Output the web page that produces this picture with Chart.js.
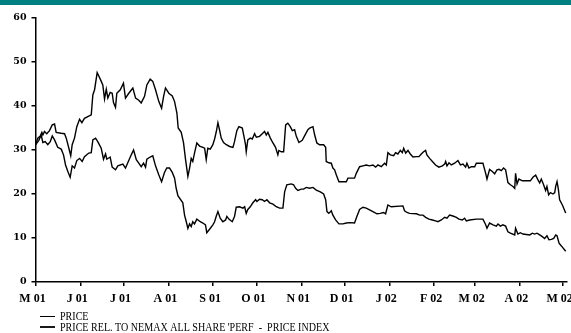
<!DOCTYPE html>
<html>
<head>
<meta charset="utf-8">
<script src="https://cdn.jsdelivr.net/npm/chart.js@4"></script>
<style>
  html, body { margin: 0; padding: 0; background: #fff; }
  canvas { display: block; }
</style>
</head>
<body>
<canvas id="priceChart" width="571" height="333"></canvas>
<script>
// month starts, days counted from 1 May 2001
const tickDays = [0, 31, 61, 92, 123, 153, 184, 214, 245, 276, 304, 335, 365];
const tickLabels = ['M 01', 'J 01', 'J 01', 'A 01', 'S 01', 'O 01', 'N 01', 'D 01', 'J 02', 'F 02', 'M 02', 'A 02', 'M 02'];

const priceLabel = 'PRICE';
const relLabel = "PRICE REL. TO NEMAX ALL SHARE 'PERF  -  PRICE INDEX";

const priceDays = [
    0, 2.3, 3.9, 5.1, 6.7, 8.5, 10.2, 11.6, 13.2, 15.4,
    17.8, 19.4, 20.8, 22.4, 24.0, 25.4, 27.0, 28.6, 30.5, 32.3,
    33.9, 36.9, 38.6, 39.7, 41.6, 43.1, 45.5, 47.1, 48.5, 49.4,
    51.7, 53.1, 55.4, 57.0, 60.5, 62.3, 63.9, 66.3, 67.9, 69.8,
    71.5, 73.2, 74.8, 76.2, 77.1, 79.4, 81.2, 83.1, 85.4, 87.3,
    89.3, 90.9, 92.8, 94.7, 96.3, 97.4, 98.6, 102.0, 103.2, 104.4,
    105.5, 106.7, 107.8, 108.9, 110.1, 111.7, 114.1, 115.9, 117.7, 118.6,
    120.5, 122.8, 124.0, 125.2, 126.3, 127.9, 129.7, 131.6, 132.5, 133.9,
    136.2, 137.8, 139.0, 141.3, 143.6, 144.8, 145.9, 147.0, 148.7, 150.5,
    152.4, 153.3, 155.1, 157.0, 158.6, 160.2, 162.1, 164.4, 166.7, 169.0,
    171.3, 172.5, 174.0, 177.1, 178.7, 180.1, 181.7, 184.0, 185.6, 187.5,
    189.8, 192.1, 194.4, 197.2, 199.5, 200.9, 201.8, 203.1, 204.8, 205.9,
    207.8, 210.1, 212.9, 215.2, 217.5, 220.9, 222.5, 224.4, 226.7, 229.0,
    231.3, 233.6, 236.4, 238.7, 241.0, 242.4, 244.0, 246.3, 254.4, 255.5,
    257.2, 259.0, 263.7, 266.0, 268.3, 270.1, 272.4, 274.8, 277.0, 278.6,
    281.0, 283.3, 284.9, 286.7, 289.0, 291.4, 293.2, 295.5, 297.1, 298.3,
    300.6, 305.2, 309.8, 311.7, 312.6, 314.4, 316.8, 319.1, 320.2, 321.9,
    323.6, 325.5, 327.1, 328.8, 331.8, 332.4, 334.0, 335.7, 337.5, 342.2,
    344.0, 345.6, 347.2, 349.1, 350.9, 352.5, 354.1, 355.5, 357.2, 358.8,
    360.2, 361.1, 362.5, 364.1, 367.1
];
const priceValues = [
    31.2, 32.2, 33.4, 31.7, 31.9, 31.2, 31.9, 33.2, 32.3, 30.6,
    30.2, 28.9, 26.6, 25.1, 23.8, 26.4, 25.9, 27.6, 28.1, 27.4,
    28.5, 29.3, 29.4, 32.3, 32.7, 31.9, 30.4, 27.9, 29.1, 27.9,
    28.4, 26.1, 25.5, 26.4, 26.8, 25.9, 27.1, 28.9, 30.0, 27.8,
    27.0, 26.2, 27.0, 26.1, 27.9, 28.4, 28.7, 26.4, 24.3, 22.8,
    24.9, 25.9, 25.9, 24.9, 23.6, 21.3, 19.6, 18.0, 15.2, 13.7,
    12.2, 13.2, 12.6, 13.7, 13.2, 14.3, 13.7, 13.4, 13.0, 11.2,
    12.0, 13.0, 13.7, 15.0, 16.0, 14.5, 13.7, 14.1, 14.9, 14.3,
    13.7, 14.9, 17.0, 17.1, 16.8, 17.1, 15.6, 16.5, 17.1, 18.0,
    18.7, 18.3, 18.8, 18.7, 18.3, 18.7, 18.0, 17.7, 17.1, 16.8,
    16.8, 20.5, 22.1, 22.3, 22.1, 21.3, 20.8, 21.1, 21.1, 21.5,
    21.3, 21.5, 20.9, 20.5, 20.0, 18.7, 16.0, 15.6, 16.2, 15.2,
    14.1, 13.2, 13.2, 13.4, 13.5, 13.4, 14.9, 16.5, 17.0, 16.8,
    16.4, 16.0, 15.5, 15.6, 15.8, 15.5, 17.5, 17.1, 17.3, 16.2,
    15.8, 15.6, 15.5, 15.2, 15.2, 14.7, 14.3, 14.1, 13.9, 13.7,
    14.1, 14.7, 14.5, 15.2, 15.0, 14.7, 14.3, 14.1, 14.5, 13.9,
    14.1, 14.3, 14.3, 13.0, 12.2, 13.4, 13.0, 12.7, 13.2, 12.7,
    13.0, 12.7, 11.4, 11.1, 10.7, 12.2, 10.9, 11.2, 10.9, 10.7,
    11.1, 10.9, 11.1, 10.7, 10.3, 9.9, 10.5, 9.6, 9.7, 9.9,
    10.7, 10.5, 8.8, 8.2, 7.0
];

const relDays = [
    0, 1.6, 3.3, 4.4, 5.1, 6.2, 7.8, 9.7, 11.6, 13.2,
    14.3, 17.8, 20.1, 21.3, 23.1, 24.4, 25.4, 27.0, 28.6, 30.5,
    32.1, 33.9, 36.2, 38.6, 39.7, 40.9, 42.7, 45.0, 46.6, 47.8,
    49.0, 50.1, 51.7, 53.1, 54.0, 55.4, 56.3, 58.7, 60.9, 62.3,
    64.6, 67.4, 69.3, 71.5, 73.2, 75.5, 77.1, 79.4, 81.2, 83.1,
    85.4, 87.3, 88.7, 90.0, 92.3, 94.7, 96.3, 97.9, 98.8, 100.9,
    102.5, 103.9, 105.5, 106.7, 107.8, 108.9, 110.1, 111.7, 113.6, 115.9,
    117.1, 118.2, 119.3, 121.0, 122.8, 124.0, 125.2, 126.3, 127.4, 128.6,
    130.2, 132.1, 134.4, 136.7, 137.8, 139.4, 140.8, 143.2, 144.8, 145.4,
    145.9, 147.0, 148.7, 150.1, 151.7, 152.9, 155.1, 157.0, 158.6, 159.8,
    160.9, 162.6, 164.4, 166.2, 167.8, 168.5, 170.2, 171.8, 173.2, 174.7,
    176.4, 177.8, 179.4, 180.6, 182.4, 184.7, 186.3, 188.6, 189.8, 192.1,
    193.3, 194.8, 196.7, 199.5, 200.9, 201.3, 203.1, 204.8, 205.9, 207.1,
    208.3, 210.1, 215.2, 216.3, 220.9, 222.1, 224.4, 226.7, 229.0, 231.3,
    233.6, 235.5, 237.1, 239.4, 241.7, 242.9, 244.0, 245.7, 248.0, 249.3,
    250.9, 252.6, 254.0, 254.9, 256.3, 257.9, 259.5, 261.4, 263.7, 265.5,
    267.1, 268.7, 270.1, 271.0, 272.9, 274.8, 277.0, 279.3, 281.7, 283.3,
    284.0, 284.9, 286.3, 287.9, 290.2, 292.5, 294.2, 296.0, 297.8, 298.7,
    300.1, 301.8, 304.1, 305.2, 309.8, 311.7, 312.6, 314.4, 316.3, 317.9,
    319.5, 320.9, 322.5, 324.1, 325.5, 327.1, 328.8, 330.6, 331.8, 332.4,
    333.4, 334.7, 337.1, 342.6, 344.4, 346.3, 347.9, 349.1, 350.2, 351.8,
    353.2, 354.1, 355.3, 356.5, 358.3, 359.5, 360.2, 361.1, 362.0, 362.9,
    364.8, 367.1
];
const relValues = [
    31.2, 32.7, 33.2, 34.0, 33.4, 34.2, 33.7, 34.4, 35.7, 35.9,
    34.0, 33.8, 33.7, 32.7, 30.4, 28.7, 31.2, 32.7, 35.3, 37.0,
    36.2, 37.2, 37.6, 38.0, 42.5, 43.7, 47.6, 46.0, 44.8, 41.6,
    43.8, 41.8, 43.1, 42.9, 40.8, 39.7, 42.9, 43.7, 45.2, 41.8,
    42.9, 44.1, 41.8, 41.3, 40.7, 42.2, 44.8, 46.1, 45.6, 43.7,
    41.0, 39.5, 42.2, 44.1, 42.9, 42.3, 41.0, 38.4, 35.0, 34.0,
    31.6, 27.8, 24.0, 25.9, 28.1, 27.4, 29.3, 31.6, 30.9, 30.6,
    30.4, 27.8, 30.4, 30.2, 31.2, 32.5, 34.2, 36.2, 34.6, 32.7,
    31.7, 31.2, 30.8, 30.6, 31.9, 34.4, 35.3, 35.0, 32.3, 31.2,
    29.6, 32.3, 32.7, 32.5, 33.7, 32.9, 33.1, 33.7, 34.2, 33.4,
    34.0, 32.7, 31.6, 30.6, 28.9, 29.9, 29.6, 29.6, 35.7, 36.1,
    35.3, 34.4, 34.6, 33.1, 31.7, 32.2, 33.2, 34.6, 35.0, 35.3,
    33.4, 31.6, 31.2, 31.2, 30.6, 27.4, 27.1, 27.0, 25.9, 25.5,
    24.3, 22.8, 22.8, 23.6, 23.6, 24.7, 26.2, 26.4, 26.6, 26.4,
    26.6, 26.1, 26.6, 26.2, 27.0, 26.6, 29.4, 28.9, 28.7, 29.4,
    29.1, 29.9, 29.4, 30.4, 29.3, 29.9, 29.1, 28.4, 28.5, 28.5,
    29.1, 29.6, 29.9, 28.9, 28.1, 27.4, 26.6, 26.1, 26.4, 26.8,
    27.4, 26.4, 27.1, 26.6, 27.0, 27.6, 26.6, 26.8, 26.1, 27.0,
    25.9, 26.2, 26.2, 27.0, 27.0, 24.7, 23.4, 25.6, 25.1, 24.6,
    25.5, 25.6, 25.3, 25.9, 25.5, 22.6, 22.1, 21.7, 21.3, 24.7,
    22.3, 23.4, 23.0, 23.0, 23.8, 24.3, 23.2, 22.5, 23.4, 22.1,
    20.8, 21.7, 19.8, 20.3, 20.0, 20.3, 21.8, 22.8, 21.1, 18.7,
    17.5, 15.7
];

const toPoints = (days, values) => days.map((d, i) => ({ x: d, y: values[i] }));

// teal band along the top edge
const topBand = {
    id: 'topBand',
    beforeDraw(chart) {
        const ctx = chart.ctx;
        ctx.save();
        ctx.fillStyle = '#008080';
        ctx.fillRect(0, 0, chart.width, 5);
        ctx.restore();
    }
};

// legend stacked one item per row, bottom left
const stackedLegend = {
    id: 'stackedLegend',
    afterDraw(chart) {
        const ctx = chart.ctx;
        chart.data.datasets.forEach((ds, i) => {
            const y = 316.5 + i * 10.5;
            ctx.save();
            ctx.strokeStyle = '#000';
            ctx.lineWidth = ds.legendWidth;
            ctx.beginPath();
            ctx.moveTo(40, y);
            ctx.lineTo(55, y);
            ctx.stroke();
            ctx.fillStyle = '#000';
            ctx.font = '11.5px "Liberation Serif"';
            ctx.textBaseline = 'alphabetic';
            ctx.translate(60, 320 + i * 10.8);
            ctx.scale(0.875, 1);
            ctx.fillText(ds.label, 0, 0);
            ctx.restore();
        });
    }
};

new Chart(document.getElementById('priceChart'), {
    type: 'line',
    data: {
        datasets: [{
            label: priceLabel,
            data: toPoints(priceDays, priceValues),
            borderColor: '#000',
            borderWidth: 1.4,
            legendWidth: 1,
            pointRadius: 0,
            tension: 0,
            fill: false
        }, {
            label: relLabel,
            data: toPoints(relDays, relValues),
            borderColor: '#000',
            borderWidth: 1.4,
            legendWidth: 1.8,
            pointRadius: 0,
            tension: 0,
            fill: false
        }]
    },
    options: {
        responsive: false,
        animation: false,
        devicePixelRatio: 1,
        layout: { padding: { top: 18, right: 4, left: 0, bottom: 0 } },
        plugins: {
            legend: { display: false },
            tooltip: { enabled: false }
        },
        scales: {
            x: {
                type: 'linear',
                min: 0,
                max: 368,
                afterBuildTicks: (scale) => {
                    scale.ticks = tickDays.map(v => ({ value: v }));
                },
                afterFit: (scale) => {
                    scale.height = 51;
                    scale.paddingLeft = 0;
                    scale.paddingRight = 0;
                },
                ticks: {
                    autoSkip: false,
                    maxRotation: 0,
                    minRotation: 0,
                    padding: 6,
                    labelOffset: -3,
                    color: '#000',
                    font: { family: '"Liberation Serif", serif', size: 12, weight: 'bold' },
                    callback: (value) => tickLabels[tickDays.indexOf(value)]
                },
                grid: { drawOnChartArea: false, drawTicks: true, tickLength: 4, color: '#000', lineWidth: 1.5 },
                border: { display: true, color: '#000', width: 1.5 }
            },
            y: {
                min: 0,
                max: 60,
                afterFit: (scale) => { scale.width = 35.5; },
                ticks: {
                    stepSize: 10,
                    padding: 5,
                    color: '#000',
                    font: { family: '"DejaVu Serif", serif', size: 9.5, weight: 'bold' }
                },
                grid: { drawOnChartArea: false, drawTicks: true, tickLength: 4, color: '#000', lineWidth: 1.5 },
                border: { display: true, color: '#000', width: 1.5 }
            }
        }
    },
    plugins: [topBand, stackedLegend]
});
</script>
</body>
</html>
